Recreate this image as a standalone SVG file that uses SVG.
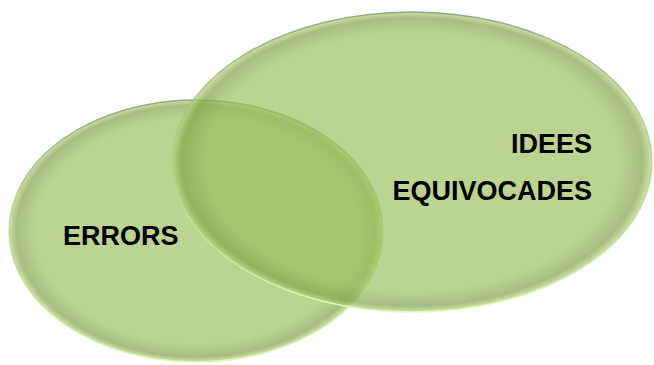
<svg xmlns="http://www.w3.org/2000/svg" width="654" height="365" viewBox="0 0 654 365">
  <defs>
    <radialGradient id="bevel" cx="0.5" cy="0.5" r="0.5">
      <stop offset="0" stop-color="#9ABE58" stop-opacity="0.66"/>
      <stop offset="0.86" stop-color="#9ABE58" stop-opacity="0.66"/>
      <stop offset="0.96" stop-color="#86A24E" stop-opacity="0.72"/>
      <stop offset="1" stop-color="#B4D67A" stop-opacity="0.7"/>
    </radialGradient>
    <linearGradient id="rim" x1="0" y1="0" x2="0" y2="1">
      <stop offset="0" stop-color="#8E9C80" stop-opacity="0.9"/>
      <stop offset="0.5" stop-color="#B8CC98" stop-opacity="0.6"/>
      <stop offset="1" stop-color="#E2F8B0" stop-opacity="1"/>
    </linearGradient>
  </defs>
  <style>
    .set { fill: url(#bevel); stroke: url(#rim); stroke-width: 1.6; }
    .lbl { font-family: "Liberation Sans", Arial, sans-serif; font-weight: bold; font-size: 27px; fill: #000; }
  </style>
  <rect width="654" height="365" fill="#FFFFFF"/>
  <g id="errors">
    <ellipse class="set" cx="196" cy="231" rx="187" ry="131"/>
  </g>
  <g id="idees">
    <ellipse class="set" cx="412" cy="162" rx="240" ry="150"/>
  </g>
  <g id="labels">
    <text class="lbl" x="63" y="245">ERRORS</text>
    <text class="lbl" x="592" y="153" text-anchor="end">IDEES</text>
    <text class="lbl" x="592" y="200" text-anchor="end">EQUIVOCADES</text>
  </g>
  <g id="connectors"/>
</svg>
